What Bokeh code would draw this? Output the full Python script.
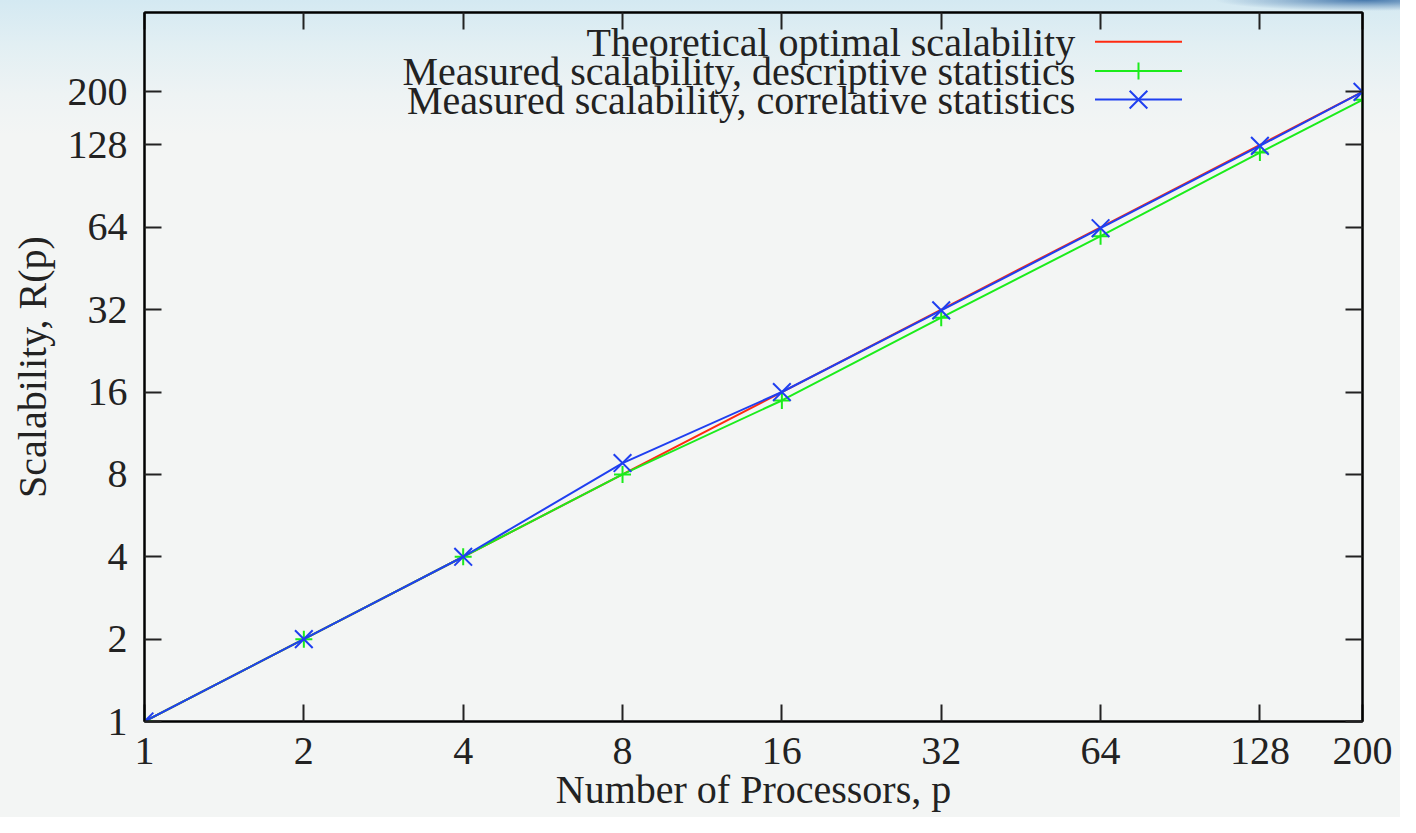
from bokeh.plotting import figure
from bokeh.models import (FixedTicker, LogAxis, Label, NumeralTickFormatter,
                          Range1d, LinearScale)
from bokeh.embed import file_html
from bokeh.resources import INLINE

# ---- data ----
processors = [1, 2, 4, 8, 16, 32, 64, 128, 200]
theoretical = [1, 2, 4, 8, 16, 32, 64, 128, 200]
descriptive = [1, 2, 4, 8, 14.9, 29.9, 59.4, 120, 187]
correlative = [1, 2, 4, 8.8, 16, 31.8, 63.5, 127, 200]
tick_values = [1, 2, 4, 8, 16, 32, 64, 128, 200]
series_names = ["Theoretical optimal scalability",
                "Measured scalability, descriptive statistics",
                "Measured scalability, correlative statistics"]
x_label = "Number of Processors, p"
y_label = "Scalability, R(p)"

RED, GREEN, BLUE = "#ff2a10", "#1bec1b", "#1f3ff0"
FONT = "Liberation Serif"
FS = "40px"
TXT = "#222222"
PLUS_SIZE, X_SIZE = 17, 25

W, H = 1400, 817
BL, BR, BT, BB = 144, 38, 12, 96
FW, FH = W - BL - BR, H - BT - BB

p = figure(width=W, height=H, x_axis_type="log", y_axis_type="log",
           x_range=Range1d(1, 200), y_range=Range1d(1, 390),
           output_backend="svg", toolbar_location=None,
           min_border_left=BL, min_border_right=BR,
           min_border_top=BT, min_border_bottom=BB)
p.border_fill_color = None
p.background_fill_color = None
p.styles = {"background":
            "radial-gradient(ellipse 150px 11px at 1365px 0px, rgba(45,100,160,0.85) 0%, rgba(45,100,160,0.35) 55%, rgba(45,100,160,0) 100%), "
            "linear-gradient(to bottom, #d4e9f2 0px, #e2eff3 45px, #eef3f4 95px, #f3f5f4 135px, #f3f5f4 100%)"}
p.outline_line_color = "black"
p.outline_line_width = 2
p.grid.visible = False

def style_axis(ax, labels=True):
    ax.axis_line_color = "black"
    ax.axis_line_width = 2
    if labels:
        ax.ticker = FixedTicker(ticks=tick_values)
        ax.formatter = NumeralTickFormatter(format="0")
        ax.major_tick_line_color = "#222222"
        ax.major_tick_line_width = 2
        ax.major_tick_in = 17
        ax.major_tick_out = 0
        ax.minor_tick_in = 0
        ax.minor_tick_out = 0
        ax.minor_tick_line_color = None
        ax.major_label_text_font = FONT
        ax.major_label_text_font_size = FS
        ax.major_label_text_color = TXT
        ax.axis_label_text_font = FONT
        ax.axis_label_text_font_size = FS
        ax.axis_label_text_font_style = "normal"
        ax.axis_label_text_color = TXT
    else:
        # mirrored ticks without labels (drawn as minor ticks)
        ax.ticker = FixedTicker(ticks=[], minor_ticks=tick_values)
        ax.major_tick_line_color = None
        ax.minor_tick_line_color = "#222222"
        ax.minor_tick_line_width = 2
        ax.minor_tick_in = 17
        ax.minor_tick_out = 0
        ax.major_label_standoff = 0

xa = p.xaxis[0]
ya = p.yaxis[0]
style_axis(xa)
style_axis(ya)
xa.axis_label = x_label
ya.axis_label = y_label
xa.major_label_standoff = 16
xa.axis_label_standoff = 0
ya.major_label_standoff = 17
ya.axis_label_standoff = 10

top_ax = LogAxis()
right_ax = LogAxis()
style_axis(top_ax, labels=False)
style_axis(right_ax, labels=False)
p.add_layout(top_ax, "above")
p.add_layout(right_ax, "right")

# ---- series ----
p.line(processors, theoretical, line_color=RED, line_width=2)
p.line(processors, descriptive, line_color=GREEN, line_width=2)
p.scatter(processors, descriptive, marker="cross", size=PLUS_SIZE,
          line_color=GREEN, line_width=2)
p.line(processors, correlative, line_color=BLUE, line_width=2)
p.scatter(processors, correlative, marker="x", size=X_SIZE,
          line_color=BLUE, line_width=2)

# ---- key (gnuplot style: right-aligned text, sample on the right) ----
p.extra_x_ranges = {"key_x": Range1d(0, FW)}
p.extra_y_ranges = {"key_y": Range1d(0, FH)}
p.extra_x_scales = {"key_x": LinearScale()}
p.extra_y_scales = {"key_y": LinearScale()}
key_x0, key_x1, key_xm = 950.5, 1037.5, 994
key_rows = [679.8, 650.4, 621.9]
key_colors = [RED, GREEN, BLUE]
key_markers = [None, "cross", "x"]
key_sizes = [0, PLUS_SIZE, X_SIZE]
for row, col, mk, sz in zip(key_rows, key_colors, key_markers, key_sizes):
    p.line([key_x0, key_x1], [row, row], line_color=col, line_width=2,
           x_range_name="key_x", y_range_name="key_y")
    if mk:
        p.scatter([key_xm], [row], marker=mk, size=sz, line_color=col,
                  line_width=2, x_range_name="key_x", y_range_name="key_y")

text_right = 930.7
for i, name in enumerate(series_names):
    p.add_layout(Label(x=text_right, y=key_rows[i] - 0.5, x_units="screen",
                       y_units="screen", text=name, text_align="right",
                       text_baseline="alphabetic", text_font=FONT,
                       text_font_size=FS, text_color=TXT))

open("out.html", "w").write(file_html(p, INLINE))
